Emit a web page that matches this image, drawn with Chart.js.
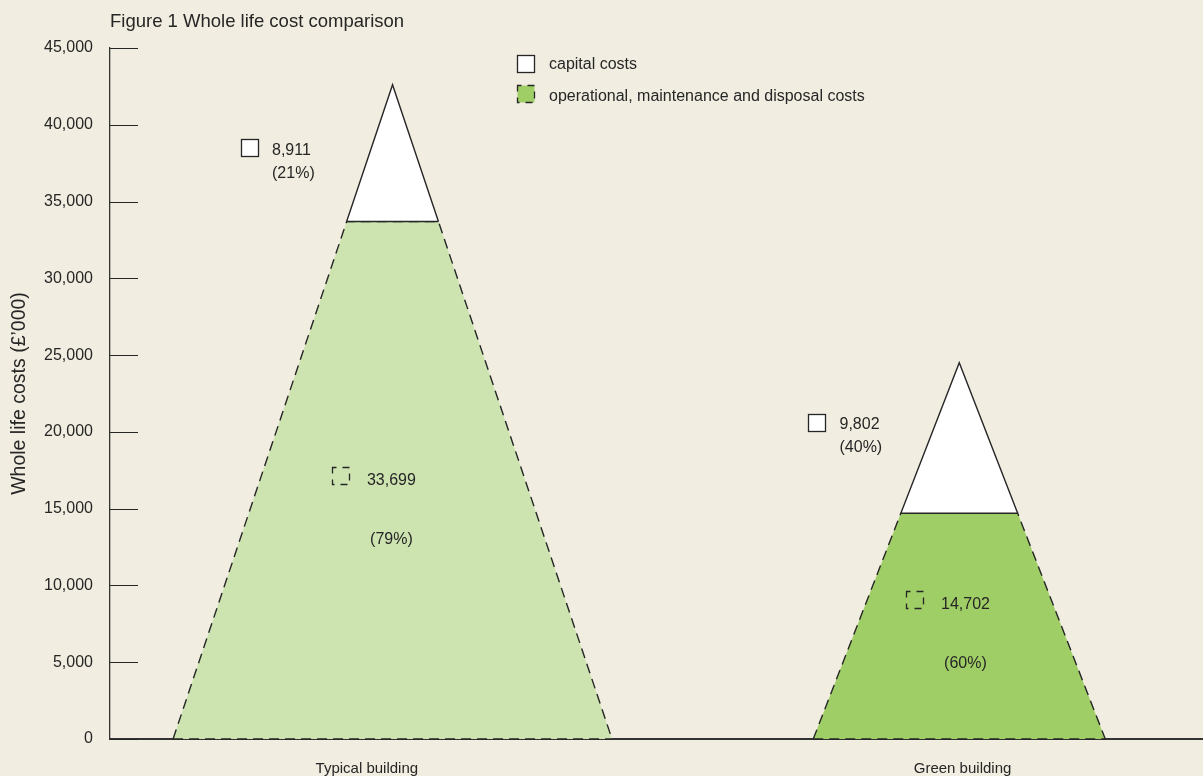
<!DOCTYPE html>
<html>
<head>
<meta charset="utf-8">
<title>Whole life cost comparison</title>
<script src="https://cdn.jsdelivr.net/npm/chart.js@4.4.1/dist/chart.umd.min.js"></script>
<style>
  html, body { margin: 0; padding: 0; background: #f1ede0; }
  #wrap { width: 1203px; height: 776px; }
</style>
</head>
<body>
<div id="wrap"><canvas id="costChart" width="1203" height="776"></canvas></div>
<script>
// values (£'000)
const buildings = ['Typical building', 'Green building'];
const capitalCosts = [8911, 9802];
const operationalCosts = [33699, 14702];
const capitalShare = ['(21%)', '(40%)'];
const operationalShare = ['(79%)', '(60%)'];
const yTicks = [0, 5000, 10000, 15000, 20000, 25000, 30000, 35000, 40000, 45000];
const seriesNames = ['capital costs', 'operational, maintenance and disposal costs'];

// layout - x axis runs 0..100
const peakX = [25.85, 77.7];
const baseHalfWidth = [20.08, 13.36];
const labelX = [23.5, 78];
const fills = ['#cde4b1', '#a0ce66'];
const capitalKeyAt = [[12.72, 38490], [64.64, 20640]];
const operationalKeyAt = [[21.13, 17130], [73.65, 9110]];

const ink = '#262626';
const dash = [10, 6];

Chart.defaults.font.family = "'Liberation Sans', Arial, Helvetica, sans-serif";
Chart.defaults.color = ink;

function fmt(v) {
  return String(v).replace(/\B(?=(\d{3})+(?!\d))/g, ',');
}

const datasets = [];
buildings.forEach((name, i) => {
  const op = operationalCosts[i];
  const total = op + capitalCosts[i];
  const cx = peakX[i];
  const w = baseHalfWidth[i];
  const ws = w * (1 - op / total);
  datasets.push(
    {
      label: name + ' split',
      data: [{ x: cx - ws, y: op }, { x: cx + ws, y: op }],
      borderColor: ink, borderWidth: 1.4, order: 0
    },
    {
      label: name + ' base',
      data: [{ x: cx - w, y: 0 }, { x: cx + w, y: 0 }],
      borderColor: ink, borderWidth: 1.4, borderDash: dash, order: 1
    },
    {
      label: name + ' capital',
      data: [{ x: cx - ws, y: op }, { x: cx, y: total }, { x: cx + ws, y: op }],
      fill: { value: op }, backgroundColor: '#ffffff',
      borderColor: ink, borderWidth: 1.4, order: 2
    },
    {
      label: name + ' operational',
      data: [{ x: cx - w, y: 0 }, { x: cx - ws, y: op }, { x: cx + ws, y: op }, { x: cx + w, y: 0 }],
      fill: 'origin', backgroundColor: fills[i],
      borderColor: ink, borderWidth: 1.4, borderDash: dash, order: 3
    }
  );
});

function drawKey(ctx, px, py, kind, fillColor) {
  const s = 17;
  const l = Math.round(px - s / 2) + 0.5;
  const t = Math.round(py - s / 2) + 0.5;
  ctx.save();
  ctx.lineWidth = 1.3;
  ctx.strokeStyle = ink;
  if (kind === 'capital') {
    ctx.fillStyle = '#ffffff';
    ctx.fillRect(l, t, s, s);
    ctx.strokeRect(l, t, s, s);
  } else {
    if (fillColor) {
      ctx.fillStyle = fillColor;
      ctx.fillRect(l, t, s, s);
    }
    ctx.setLineDash([7, 6]);
    ctx.lineDashOffset = 3;
    ctx.strokeRect(l, t, s, s);
  }
  ctx.restore();
}

const keysPlugin = {
  id: 'keys',
  afterDatasetsDraw(chart) {
    const { ctx, scales: { x, y } } = chart;
    ctx.save();
    // inward tick marks on the value axis
    ctx.strokeStyle = ink;
    ctx.lineWidth = 1;
    y.ticks.forEach(t => {
      const py = Math.round(y.getPixelForValue(t.value)) + 0.5;
      ctx.beginPath();
      ctx.moveTo(x.left, py);
      ctx.lineTo(x.left + 28, py);
      ctx.stroke();
    });

    // legend
    ctx.font = "16px 'Liberation Sans', Arial, sans-serif";
    ctx.fillStyle = ink;
    ctx.textBaseline = 'middle';
    ctx.textAlign = 'left';
    drawKey(ctx, 525.5, 63.5, 'capital');
    ctx.fillText(seriesNames[0], 549, 65);
    drawKey(ctx, 525.5, 93, 'operational', fills[1]);
    ctx.fillText(seriesNames[1], 549, 97);

    // value labels
    buildings.forEach((name, i) => {
      let px = x.getPixelForValue(capitalKeyAt[i][0]);
      let py = y.getPixelForValue(capitalKeyAt[i][1]);
      drawKey(ctx, px, py, 'capital');
      ctx.fillStyle = ink;
      ctx.textAlign = 'left';
      ctx.fillText(fmt(capitalCosts[i]), px + 23, py + 3);
      ctx.fillText(capitalShare[i], px + 23, py + 26);

      px = x.getPixelForValue(operationalKeyAt[i][0]);
      py = y.getPixelForValue(operationalKeyAt[i][1]);
      drawKey(ctx, px, py, 'operational');
      ctx.fillStyle = ink;
      const txt = fmt(operationalCosts[i]);
      const tx = px + 26;
      ctx.fillText(txt, tx, py + 5);
      const mid = tx + ctx.measureText(txt).width / 2;
      ctx.textAlign = 'center';
      ctx.fillText(operationalShare[i], mid, py + 64);
    });
    ctx.restore();
  }
};

new Chart(document.getElementById('costChart'), {
  type: 'scatter',
  data: { datasets },
  options: {
    responsive: false,
    animation: false,
    showLine: true,
    clip: false,
    elements: { point: { radius: 0, hoverRadius: 0 }, line: { tension: 0 } },
    layout: { padding: 0 },
    plugins: {
      legend: { display: false },
      tooltip: { enabled: false },
      title: {
        display: true,
        text: 'Figure 1 Whole life cost comparison',
        align: 'start',
        fullSize: false,
        color: ink,
        font: { size: 18.5, weight: 'normal' },
        padding: { top: 11, bottom: 14.8 }
      }
    },
    scales: {
      x: {
        type: 'linear',
        min: 0,
        max: 100,
        grid: { display: false, drawTicks: false },
        border: { display: true, color: '#333333', width: 2 },
        afterBuildTicks: s => { s.ticks = labelX.map(v => ({ value: v })); },
        afterFit: s => { s.height = 37; },
        ticks: {
          autoSkip: false,
          maxRotation: 0,
          padding: 21,
          color: ink,
          font: { size: 15 },
          callback: (v, idx) => buildings[idx]
        }
      },
      y: {
        min: 0,
        max: 45000,
        grid: { display: false, drawTicks: false },
        border: { display: true, color: '#333333', width: 1.3 },
        afterBuildTicks: s => { s.ticks = yTicks.map(v => ({ value: v })); },
        afterFit: s => { s.width = 110; },
        ticks: {
          padding: 17,
          color: ink,
          font: { size: 16 },
          callback: v => fmt(v)
        },
        title: {
          display: true,
          text: 'Whole life costs (£’000)',
          color: ink,
          font: { size: 19.5 },
          padding: { top: 8, bottom: 0 }
        }
      }
    }
  },
  plugins: [keysPlugin]
});
</script>
</body>
</html>
